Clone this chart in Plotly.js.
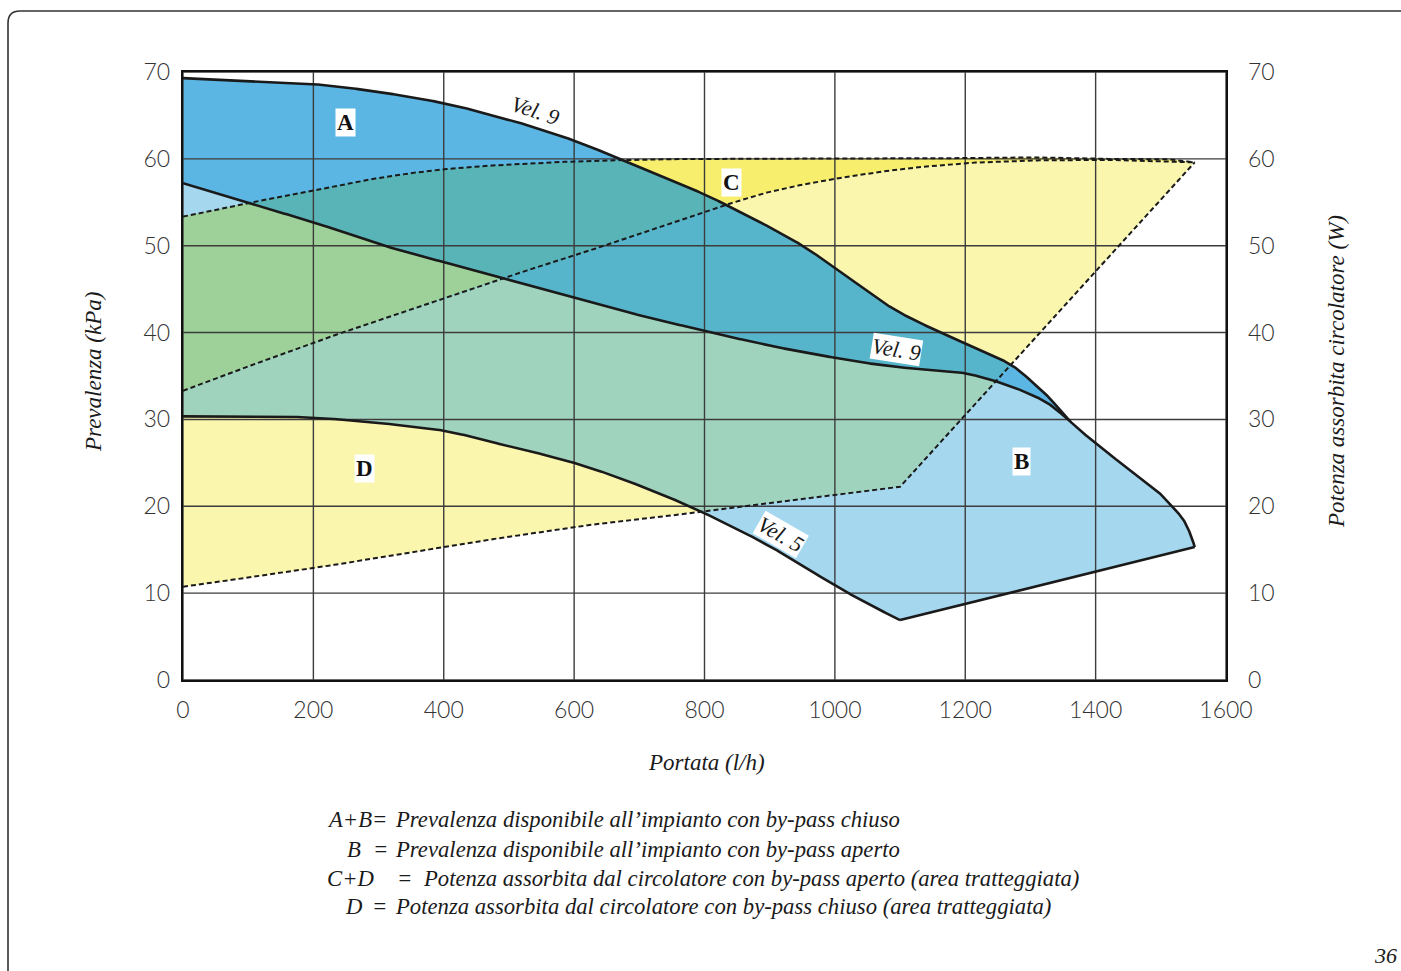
<!DOCTYPE html>
<html><head><meta charset="utf-8">
<script src="https://cdn.plot.ly/plotly-3.0.1.min.js"></script>
<style>html,body{margin:0;padding:0;background:#fff;overflow:hidden}#chart{width:1401px;height:971px}</style>
</head><body><div id="chart"></div>
<script>
// ---------- data ----------
// Vel. 9, by-pass closed (upper curve)
const flowTop = [0,100,200,300,400,500,600,670,740,800,870,946,1003,1086,1162,1220,1270,1300,1330,1360,1400,1440,1468,1494,1517,1535,1547,1552];
const headTop = [69.3,69.0,68.6,67.7,66.4,64.5,62.1,60.0,57.8,55.9,53.3,50.2,47.3,42.9,40.0,38.1,36.3,34.5,32.4,29.85,27.25,24.9,23.3,21.8,20.0,18.4,16.5,15.3];
// Vel. 9, by-pass open (lower curve, joins the upper one)
const flowV9 = [0,100,200,300,400,500,600,700,800,900,1000,1086,1150,1200,1251,1300,1330,1360];
const headV9 = [57.2,54.9,52.7,50.2,48.1,46.0,44.0,42.0,40.2,38.5,37.1,36.1,35.7,35.3,34.3,32.9,31.7,29.85];
// Vel. 5
const flowV5 = [0,100,200,300,400,500,600,700,800,900,1000,1050,1100];
const headV5 = [30.35,30.35,30.2,29.6,28.7,26.9,25.0,22.4,19.2,15.4,10.9,8.8,6.9];
// lower limit of area B
const flowBot = [1100,1552];
const headBot = [6.9,15.3];
// power curves (W, right axis) - dashed
const flowP1 = [0,100,200,300,400,500,600,700,800,1000,1100,1200,1280,1400,1500,1552];
const powerP1 = [53.35,54.9,56.35,57.8,58.8,59.35,59.7,59.9,60.0,60.0,60.0,60.1,60.2,60.0,60.0,59.6];
const flowP2 = [0,100,200,300,400,500,600,700,800,900,1000,1100,1200,1300,1400,1552];
const powerP2 = [33.3,36.1,38.85,41.4,44.0,46.5,48.85,51.4,53.9,56.2,57.7,58.8,59.5,59.8,59.9,59.6];
const flowP3 = [0,200,400,600,700,800,900,1000,1100,1552];
const powerP3 = [10.74,12.86,15.35,17.65,18.5,19.4,20.4,21.3,22.25,59.6];

const xTicks = [0,200,400,600,800,1000,1200,1400,1600];
const yTicks = [0,10,20,30,40,50,60,70];

// ---------- helpers ----------
function linear(xs, ys, x){
  if (x <= xs[0]) return ys[0];
  for (let i = 1; i < xs.length; i++){
    if (x <= xs[i]){ const t = (x - xs[i-1])/(xs[i]-xs[i-1]); return ys[i-1] + t*(ys[i]-ys[i-1]); }
  }
  return ys[ys.length-1];
}
// smooth cubic Hermite curve through the read points
function smooth(xs, ys, x){
  const n = xs.length;
  if (x <= xs[0]) return ys[0];
  if (x >= xs[n-1]) return ys[n-1];
  let i = 0; while (x > xs[i+1]) i++;
  const slope = k => k === 0 ? (ys[1]-ys[0])/(xs[1]-xs[0])
    : k === n-1 ? (ys[n-1]-ys[n-2])/(xs[n-1]-xs[n-2])
    : (ys[k+1]-ys[k-1])/(xs[k+1]-xs[k-1]);
  const h = xs[i+1]-xs[i], t = (x-xs[i])/h, t2 = t*t, t3 = t2*t;
  return (2*t3-3*t2+1)*ys[i] + (t3-2*t2+t)*h*slope(i) + (-2*t3+3*t2)*ys[i+1] + (t3-t2)*h*slope(i+1);
}
const last = a => a[a.length-1];
const T  = x => smooth(flowTop, headTop, x);
const V9 = x => x <= last(flowV9) ? smooth(flowV9, headV9, x) : T(x);
const V5 = x => smooth(flowV5, headV5, x);
const Bt = x => linear(flowBot, headBot, x);
const L  = x => x <= last(flowV5) ? V5(x) : Bt(x);
const P1 = x => smooth(flowP1, powerP1, x);
const P2r = x => smooth(flowP2, powerP2, x);
const P3r = x => linear(flowP3, powerP3, x);
const P2 = x => Math.min(P2r(x), P1(x));
const P3 = x => Math.min(P3r(x), P2(x));

const gridX = (() => {
  const s = new Set();
  for (let x = 0; x <= 1552; x += 1) s.add(x);
  [flowTop, flowV9, flowV5, flowBot, flowP1, flowP2, flowP3].forEach(a => a.forEach(v => s.add(v)));
  return Array.from(s).sort((a,b)=>a-b);
})();
function sample(xs, f){
  const x0 = xs[0], x1 = last(xs);
  const X = gridX.filter(x => x >= x0 && x <= x1);
  return {x: X, y: X.map(f)};
}

function band(x0, x1, lo, hi, color){
  const xs = [], up = [], dn = [];
  for (const x of gridX){
    if (x < x0 || x > x1) continue;
    const h = hi(x), l = lo(x);
    xs.push(x); up.push(h); dn.push(Math.min(l, h));
  }
  return {x: xs.concat(xs.slice().reverse()), y: up.concat(dn.slice().reverse()),
    type:'scatter', mode:'lines', fill:'toself', fillcolor:color, line:{width:0, color:color},
    hoverinfo:'skip', showlegend:false};
}

const xA = last(flowV9), xB = last(flowTop), xP = last(flowP1);
const U = x => (x <= xA ? V9(x) : T(x));
const colA = '#5bb6e3', colB = '#a5d7ef', colC = '#f6ee6c', colD = '#fbf6ae';
const colAC = '#59b4b7', colAD = '#57b5cb', colBC = '#9ed199', colBD = '#9fd3be';

const traces = [
  band(0, xP, P2, P1, colC),
  band(0, xP, P3, P2, colD),
  band(0, xA, V9, T, colA),
  band(0, xB, L, U, colB),
  band(0, xA, x => Math.max(V9(x), P2(x)), x => Math.min(T(x), P1(x)), colAC),
  band(0, xA, x => Math.max(V9(x), P3(x)), x => Math.min(T(x), P2(x)), colAD),
  band(0, xB, x => Math.max(L(x), P2(x)), x => Math.min(U(x), P1(x)), colBC),
  band(0, xB, x => Math.max(L(x), P3(x)), x => Math.min(U(x), P2(x)), colBD),
];

// grid drawn above the fills
const gx = [], gy = [];
xTicks.forEach(v => { gx.push(v, v, null); gy.push(0, 70, null); });
yTicks.forEach(v => { gx.push(0, 1600, null); gy.push(v, v, null); });
traces.push({x: gx, y: gy, type:'scatter', mode:'lines', line:{color:'#3c3c3c', width:1.4}, hoverinfo:'skip', showlegend:false});

const dash = {color:'#1a1a1a', width:2, dash:'5px,3px'};
const solid = {color:'#1a1a1a', width:2.6};
[[flowP1,P1],[flowP2,P2r],[flowP3,P3r]].forEach(([xs,f]) =>
  traces.push(Object.assign(sample(xs, f), {type:'scatter', mode:'lines', line:dash, yaxis:'y2', hoverinfo:'skip', showlegend:false})));
[[flowTop,T],[flowV9,V9],[flowV5,V5],[flowBot,Bt]].forEach(([xs,f]) =>
  traces.push(Object.assign(sample(xs, f), {type:'scatter', mode:'lines', line:solid, hoverinfo:'skip', showlegend:false})));

// ---------- layout ----------
const W = 1401, H = 971, ml = 183, mr = 175, mt = 72, mb = 291;
const pw = W - ml - mr, ph = H - mt - mb;
const px = x => (x - ml) / pw;
const py = y => (H - mb - y) / ph;

const serif = 'Liberation Serif, Times New Roman, serif';
const tickFont = {family:'Lato, Open Sans, sans-serif', size:23, color:'#333', weight:300};
const itFont = (s) => ({family:serif, size:s, color:'#1a1a1a', style:'italic'});

const ann = [];
function note(text, x, y, opts){ ann.push(Object.assign({text, x, y, xref:'paper', yref:'paper', showarrow:false, xanchor:'left', yanchor:'middle', font:itFont(22.7)}, opts||{})); }
// axis titles
note('Prevalenza (kPa)', px(93), py(372), {xanchor:'center', textangle:-90, font:itFont(23)});
note('Potenza assorbita circolatore (W)', px(1336), py(372), {xanchor:'center', textangle:-90, font:itFont(23)});
note('Portata (l/h)', px(706), py(762), {xanchor:'center', font:itFont(23)});
// legend text
note('A+B=', px(325), py(820));
note('Prevalenza disponibile all’impianto con by-pass chiuso', px(393), py(820));
note('B', px(345), py(849));
note('=', px(371), py(849));
note('Prevalenza disponibile all’impianto con by-pass aperto', px(393), py(849));
note('C+D', px(325), py(878));
note('=', px(395), py(878));
note('Potenza assorbita dal circolatore con by-pass aperto (area tratteggiata)', px(421), py(878));
note('D', px(343), py(906));
note('=', px(370), py(906));
note('Potenza assorbita dal circolatore con by-pass chiuso (area tratteggiata)', px(393), py(906));
note('36', px(1385), py(955), {xanchor:'center', font:itFont(22)});

// area labels
function area(text, x, y){ ann.push({text:'<b>'+text+'</b>', x, y, xref:'x', yref:'y', showarrow:false, bgcolor:'#ffffff', borderpad:1, font:{family:serif, size:23, color:'#111'}}); }
area('A', 250, 64.2);
area('C', 841, 57.3);
area('D', 279, 24.3);
area('B', 1287, 25.1);
function vel(text, x, y, ang, bg){ ann.push({text, x, y, xref:'x', yref:'y', showarrow:false, textangle:ang, bgcolor:bg, borderpad:0, font:itFont(22)}); }
vel('Vel. 9', 540, 65.6, 18, 'rgba(0,0,0,0)');
vel('Vel. 9', 1095, 38.1, 9, '#ffffff');
vel('Vel. 5', 917, 16.7, 30, '#ffffff');

// page frame with rounded corner
const r = 12;
const x0 = px(8), yTop = py(11), yBot = py(990), xR = px(1420);
const framePath = `M ${x0},${yBot} L ${x0},${yTop - r/ph} Q ${x0},${yTop} ${x0 + r/pw},${yTop} L ${xR},${yTop}`;

const axisCommon = {showgrid:false, zeroline:false, showline:true, linecolor:'#111', linewidth:2.2, mirror:true, ticks:'', tickfont:tickFont, fixedrange:true, layer:'above traces'};

const layout = {
  width:W, height:H, paper_bgcolor:'#fff', plot_bgcolor:'#fff',
  margin:{l:ml, r:mr, t:mt, b:mb, pad:0},
  showlegend:false,
  xaxis: Object.assign({}, axisCommon, {range:[0,1600], tickvals:xTicks, ticklabelstandoff:8}),
  yaxis: Object.assign({}, axisCommon, {range:[0,70], tickvals:yTicks, ticklabelstandoff:6}),
  yaxis2: Object.assign({}, axisCommon, {range:[0,70], tickvals:yTicks, overlaying:'y', side:'right', showline:false, ticklabelstandoff:21}),
  annotations: ann,
  shapes: [{type:'path', xref:'paper', yref:'paper', path:framePath, line:{color:'#333', width:1.6}, layer:'below'}]
};

Plotly.newPlot('chart', traces, layout, {staticPlot:true, displayModeBar:false});
</script>
</body></html>
